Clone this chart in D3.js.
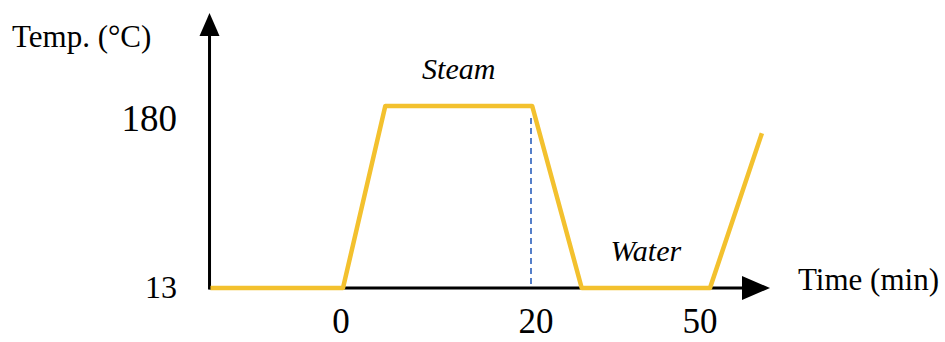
<!DOCTYPE html>
<html>
<head>
<meta charset="utf-8">
<script src="https://cdn.jsdelivr.net/npm/d3@7"></script>
<style>
  html, body { margin: 0; padding: 0; background: #fff; }
  svg { display: block; }
  text { font-family: "Liberation Serif", "Times New Roman", serif; fill: #000; }
</style>
</head>
<body>
<svg id="chart" width="945" height="342"></svg>
<script>
// Temperature programme: steam phase then water phase
const times = [-14.1, 0, 4.5, 20.2, 28.5, 50, 58.7];       // min
const temps = [13, 13, 180, 180, 13, 13, 155];              // °C
const xTicks = [0, 20, 50];
const yTicks = [13, 180];
const markerTime = 20;                                      // end of steam hold
const phases = [
  { name: "Steam", from: 4.5, to: 20.2, temp: 180 },
  { name: "Water", from: 28.5, to: 50, temp: 13 }
];

const svg = d3.select("#chart");

// Schematic time axis: piecewise linear between the labelled ticks
const x = d3.scaleLinear().domain([0, 20, 50]).range([343, 531, 710]);
const y = d3.scaleLinear().domain([13, 180]).range([288, 106]);

const axisX0 = x(-14.2), axisXEnd = 770;
const axisY0 = y(13), axisYTop = 13;

// axes with arrowheads
svg.append("line")
  .attr("x1", axisX0).attr("y1", axisY0).attr("x2", axisXEnd - 20).attr("y2", axisY0)
  .attr("stroke", "#000").attr("stroke-width", 3);
svg.append("line")
  .attr("x1", axisX0).attr("y1", axisY0 + 1.5).attr("x2", axisX0).attr("y2", axisYTop + 18)
  .attr("stroke", "#000").attr("stroke-width", 3);
svg.append("path")
  .attr("d", `M${axisXEnd},${axisY0} L${axisXEnd - 28},${axisY0 - 12} L${axisXEnd - 28},${axisY0 + 12} Z`)
  .attr("fill", "#000");
svg.append("path")
  .attr("d", `M${axisX0},${axisYTop} L${axisX0 - 10},${axisYTop + 23} L${axisX0 + 10},${axisYTop + 23} Z`)
  .attr("fill", "#000");

// dashed marker at end of steam hold
svg.append("line")
  .attr("x1", x(markerTime)).attr("x2", x(markerTime))
  .attr("y1", y(180) + 12).attr("y2", axisY0)
  .attr("stroke", "#4472C4").attr("stroke-width", 1.8)
  .attr("stroke-dasharray", "6,4");

// temperature profile
const pts = times.map((t, i) => [t, temps[i]]);
svg.append("path")
  .datum(pts)
  .attr("fill", "none")
  .attr("stroke", "#F3C12E")
  .attr("stroke-width", 4.5)
  .attr("stroke-linejoin", "round")
  .attr("d", d3.line().x(d => x(d[0])).y(d => y(d[1])));

// axis titles
svg.append("text").attr("x", 12).attr("y", 47).attr("font-size", 31).text("Temp. (°C)");
svg.append("text").attr("x", 798).attr("y", 290).attr("font-size", 31).text("Time (min)");

// y tick labels
const ySize = { 13: 32, 180: 37 };
const yNudge = { 13: 10, 180: 25 };
svg.selectAll("text.ytick").data(yTicks).join("text")
  .attr("class", "ytick")
  .attr("text-anchor", "end")
  .attr("x", 177)
  .attr("y", d => y(d) + yNudge[d])
  .attr("font-size", d => ySize[d])
  .text(d => d);

// x tick labels
const xNudge = { 0: -2, 20: 5, 50: -10 };
svg.selectAll("text.xtick").data(xTicks).join("text")
  .attr("class", "xtick")
  .attr("text-anchor", "middle")
  .attr("x", d => x(d) + xNudge[d])
  .attr("y", 333)
  .attr("font-size", 35)
  .text(d => d);

// phase labels above each hold
svg.selectAll("text.phase").data(phases).join("text")
  .attr("class", "phase")
  .attr("text-anchor", "middle")
  .attr("font-style", "italic")
  .attr("font-size", 30)
  .attr("x", d => (x(d.from) + x(d.to)) / 2)
  .attr("y", d => y(d.temp) - 27)
  .text(d => d.name);
</script>
</body>
</html>
